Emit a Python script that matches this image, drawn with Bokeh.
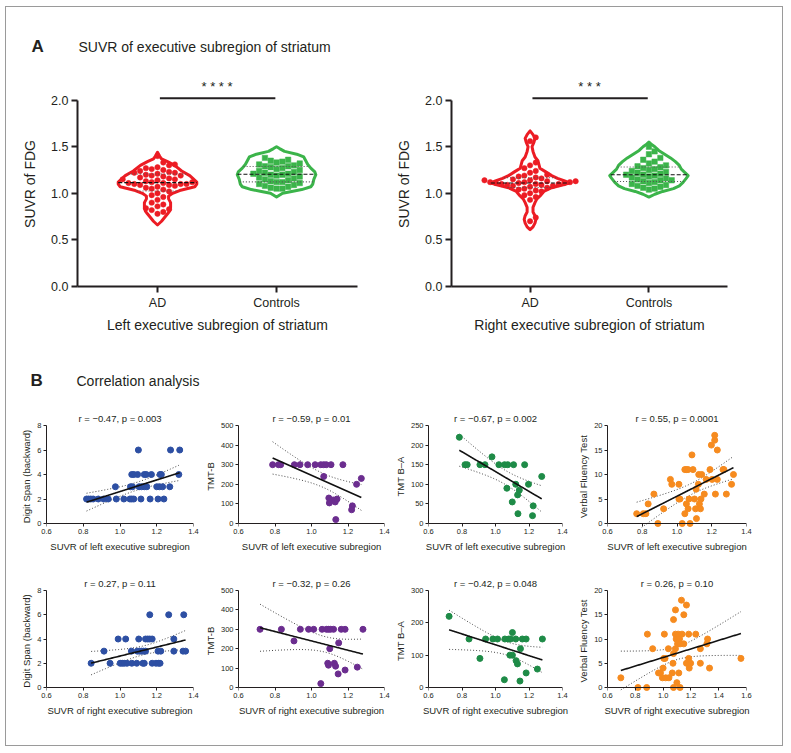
import numpy as np
from bokeh.plotting import figure
from bokeh.layouts import column, row
from bokeh.models import Range1d, FixedTicker, NumeralTickFormatter, Label, LinearAxis
from bokeh.embed import file_html
from bokeh.resources import INLINE

FONT = "Liberation Sans"
INK = "#231f20"

# ---------------- data: panel A (violins) ----------------
groups = ["AD", "Controls"]
panel_a_title = "SUVR of executive subregion of striatum"
panel_b_title = "Correlation analysis"
violin_xlabels = ["Left executive subregion of striatum", "Right executive subregion of striatum"]
violin_ylabel = "SUVR of FDG"
violin_yticks = [0.0, 0.5, 1.0, 1.5, 2.0]
sig_marks = ["* * * *", "* * *"]

suvr_ad_left = [1.40, 1.33, 1.31, 1.30, 1.28, 1.27, 1.26, 1.25, 1.24, 1.23, 1.22, 1.22, 1.21, 1.20,
                1.19, 1.19, 1.18, 1.17, 1.16, 1.15, 1.15, 1.14, 1.13, 1.12, 1.12, 1.11, 1.11, 1.10,
                1.10, 1.10, 1.09, 1.09, 1.08, 1.07, 1.06, 1.05, 1.04, 1.02, 1.00, 0.98, 0.96, 0.93,
                0.90, 0.88, 0.86, 0.84, 0.83, 0.82, 0.80, 0.78]
suvr_ctl_left = [1.38, 1.36, 1.35, 1.34, 1.33, 1.32, 1.31, 1.30, 1.29, 1.29, 1.28, 1.27, 1.26, 1.25,
                 1.24, 1.23, 1.22, 1.21, 1.21, 1.20, 1.20, 1.19, 1.18, 1.17, 1.16, 1.15, 1.14, 1.13,
                 1.12, 1.12, 1.11, 1.10, 1.09, 1.08, 1.07, 1.06, 1.05, 1.05]
suvr_ad_right = [1.60, 1.56, 1.33, 1.30, 1.27, 1.24, 1.22, 1.20, 1.19, 1.18, 1.17, 1.16, 1.15, 1.14,
                 1.14, 1.13, 1.13, 1.12, 1.12, 1.12, 1.11, 1.11, 1.11, 1.10, 1.10, 1.10, 1.09, 1.09,
                 1.08, 1.08, 1.07, 1.06, 1.05, 1.04, 1.03, 1.02, 1.00, 0.98, 0.96, 0.93, 0.74, 0.70]
suvr_ctl_right = [1.50, 1.45, 1.42, 1.38, 1.36, 1.34, 1.32, 1.30, 1.29, 1.28, 1.27, 1.26, 1.25, 1.24,
                  1.23, 1.22, 1.21, 1.20, 1.20, 1.19, 1.18, 1.17, 1.16, 1.15, 1.14, 1.14, 1.13, 1.12,
                  1.11, 1.10, 1.09, 1.08, 1.07, 1.06, 1.05, 1.04]

# violin outlines: SUVR levels and relative density
ad_left_levels = [0.66, 0.70, 0.74, 0.78, 0.81, 0.85, 0.90, 0.94, 0.97, 1.00, 1.03, 1.07, 1.10, 1.12,
                  1.16, 1.19, 1.24, 1.30, 1.34, 1.37, 1.40, 1.44]
ad_left_density = [0, 4, 7, 10, 12, 13, 13, 11, 11, 15, 22, 37, 39, 39, 35, 32, 24, 17, 10, 4, 2, 0]
ctl_left_levels = [0.96, 1.00, 1.02, 1.04, 1.07, 1.10, 1.15, 1.20, 1.23, 1.27, 1.31, 1.35, 1.39, 1.42,
                   1.45, 1.48, 1.50]
ctl_left_density = [0, 6, 15, 25, 34, 36, 37, 39, 38, 34, 31, 29, 27, 20, 8, 3, 0]
ad_right_levels = [0.61, 0.64, 0.68, 0.72, 0.76, 0.80, 0.85, 0.90, 0.94, 0.98, 1.02, 1.06, 1.09, 1.11,
                   1.13, 1.16, 1.19, 1.23, 1.27, 1.31, 1.35, 1.39, 1.45, 1.50, 1.55, 1.59, 1.63, 1.67]
ad_right_density = [0, 3, 5, 6, 5, 3, 3, 5, 7, 11, 14, 22, 33, 40, 36, 28, 22, 16, 10, 9, 8, 5, 3, 2,
                    4, 5, 3, 0]
ctl_right_levels = [0.96, 0.99, 1.02, 1.05, 1.08, 1.12, 1.16, 1.19, 1.22, 1.26, 1.30, 1.34, 1.38, 1.42,
                    1.46, 1.50, 1.53, 1.55]
ctl_right_density = [0, 6, 14, 25, 31, 35, 38, 40, 37, 33, 31, 27, 22, 16, 10, 6, 2, 0]

# ---------------- data: panel B (correlations) ----------------
xlabel_left = "SUVR of left executive subregion"
xlabel_right = "SUVR of right executive subregion"
ylabels = ["Digit Span (backward)", "TMT-B", "TMT B\u2013A", "Verbal Fluency Test"]
titles_left = ["r = \u22120.47, p = 0.003", "r = \u22120.59, p = 0.01",
               "r = \u22120.67, p = 0.002", "r = 0.55, p = 0.0001"]
titles_right = ["r = 0.27, p = 0.11", "r = \u22120.32, p = 0.26",
                "r = \u22120.42, p = 0.048", "r = 0.26, p = 0.10"]
x_ticks_14 = [0.6, 0.8, 1.0, 1.2, 1.4]
x_ticks_16 = [0.6, 0.8, 1.0, 1.2, 1.4, 1.6]
y_ticks_ds = [0, 2, 4, 6, 8]
y_ticks_tmtb = [0, 100, 200, 300, 400, 500]
y_ticks_tmtba_l = [0, 50, 100, 150, 200, 250]
y_ticks_tmtba_r = [0, 100, 200, 300]
y_ticks_vf = [0, 5, 10, 15, 20]

ds_left_x = [0.818, 0.829, 0.841, 0.854, 0.882, 0.911, 0.936, 0.980, 1.021, 1.054, 1.064, 1.075, 1.114,
             1.164, 1.207, 1.239,
             0.975, 1.057, 1.068, 1.104, 1.118, 1.132, 1.146, 1.200, 1.214, 1.232, 1.271,
             1.064, 1.075, 1.096, 1.132, 1.143, 1.171, 1.218, 1.225, 1.320,
             1.100, 1.275, 1.325]
ds_left_y = [2] * 16 + [3] * 11 + [4] * 9 + [6] * 3

tmtb_left_x = [0.787, 0.819, 0.831, 0.906, 0.937, 0.979, 1.020, 1.051, 1.067, 1.081, 1.107, 1.172,
               1.067, 1.273, 1.247, 1.095, 1.119, 1.098, 1.130, 1.140, 1.224, 1.220, 1.133]
tmtb_left_y = [300] * 12 + [240, 230, 200, 130, 120, 105, 110, 125, 90, 70, 20]

tmtba_left_x = [0.784, 0.979, 0.818, 0.831, 0.907, 0.937, 1.020, 1.054, 1.073, 1.108, 1.174, 1.276,
                1.121, 1.197, 1.068, 1.142, 1.132, 1.100, 1.225, 1.134, 1.221]
tmtba_left_y = [220, 170, 150, 150, 150, 150, 150, 150, 150, 150, 150, 120, 100, 100, 90, 85, 73,
                55, 45, 25, 20]

vf_left_x = [0.768, 0.806, 0.821, 0.834, 0.867, 0.890, 0.923, 0.962, 0.970, 1.011, 1.011, 1.017,
             1.030, 1.045, 1.054, 1.064, 1.045, 1.054, 1.064, 1.069, 1.075, 1.086, 1.092, 1.101,
             1.110, 1.107, 1.112, 1.123, 1.125, 1.129, 1.135, 1.138, 1.142, 1.157, 1.168, 1.190,
             1.198, 1.202, 1.217, 1.217, 1.221, 1.232, 1.232, 1.265, 1.270, 1.284, 1.314, 1.325]
vf_left_y = [2, 2, 2, 4, 6, 0, 3, 9, 8, 8, 5, 5, 0, 11, 11, 11, 2, 4, 3, 5, 0, 14, 11, 5, 7, 3, 1, 8,
             10, 4, 3, 5, 10, 6, 9, 11, 16, 9, 18, 17, 6, 9, 15, 11, 11, 6, 8, 10]

ds_right_x = [0.843, 0.946, 1.001, 1.012, 1.023, 1.038, 1.064, 1.091, 1.124, 1.132, 1.175, 1.196,
              1.210, 1.218,
              0.913, 1.062, 1.094, 1.106, 1.117, 1.128, 1.139, 1.207, 1.222, 1.293, 1.343, 1.357,
              0.990, 1.031, 1.102, 1.139, 1.151, 1.162, 1.175, 1.293,
              1.162, 1.265, 1.347]
ds_right_y = [2] * 14 + [3] * 12 + [4] * 8 + [6] * 3

tmtb_right_x = [0.718, 0.835, 0.904, 0.939, 0.984, 1.012, 1.058, 1.082, 1.093, 1.104, 1.121, 1.163,
                1.184, 1.282, 1.100, 1.149, 1.089, 1.093, 1.125, 1.132, 1.184, 1.146, 1.251, 1.051]
tmtb_right_y = [300, 300, 240, 300, 300, 300, 300, 300, 300, 300, 300, 300, 300, 300, 200, 230, 125,
                115, 125, 110, 90, 70, 105, 20]

tmtba_right_x = [0.723, 0.842, 0.907, 0.941, 0.984, 1.012, 1.056, 1.079, 1.090, 1.101, 1.121, 1.160,
                 1.183, 1.280, 1.086, 1.101, 1.123, 1.131, 1.149, 1.183, 1.250, 1.053, 1.146]
tmtba_right_y = [220, 150, 90, 150, 150, 150, 150, 150, 150, 170, 150, 150, 150, 150, 100, 100, 83,
                 73, 120, 45, 57, 24, 20]

vf_right_x = [0.696, 0.819, 0.882, 0.887, 0.925, 0.967, 0.981, 0.995, 1.000, 1.005, 1.009, 1.014,
              1.019, 1.038, 1.042, 1.066, 1.071, 1.075, 1.075, 1.075, 1.089, 1.089, 1.089, 1.094,
              1.099, 1.104, 1.108, 1.113, 1.118, 1.122, 1.122, 1.132, 1.136, 1.149, 1.149, 1.168,
              1.168, 1.184, 1.184, 1.188, 1.198, 1.235, 1.268, 1.268, 1.315, 1.320, 1.334, 1.560]
vf_right_y = [2, 0, 0, 11, 8, 3, 3, 2, 4, 6, 11, 6, 2, 8, 2, 3, 5, 7, 14, 0, 16, 8, 11, 10, 1, 9, 11,
              3, 10, 0, 9, 18, 11, 9, 15, 17, 5, 6, 11, 4, 5, 11, 8, 5, 9, 10, 4, 6]

# ---------------- style ----------------
RED = "#ec1c24"
GREEN_V = "#3bb44a"
BLUE = "#2d4fa3"
PURPLE = "#6b2d8f"
GREEN_S = "#1e8b47"
ORANGE = "#f68b1f"
VIOLIN_HALF = 0.33
TOTAL_W = 776


def base_fig(width, height, bl, br, bt, bb, xr, yr, **kw):
    p = figure(width=width, height=height, x_range=xr, y_range=yr,
               min_border_left=bl, min_border_right=br, min_border_top=bt, min_border_bottom=bb,
               output_backend="svg", toolbar_location=None, tools="", **kw)
    p.grid.visible = False
    p.outline_line_color = None
    return p


def style_axis(ax, lw, tick_len, tick_size, label_size, tick_standoff, label_standoff):
    ax.axis_line_color = INK
    ax.axis_line_width = lw
    ax.major_tick_line_color = INK
    ax.major_tick_line_width = lw
    ax.major_tick_out = tick_len
    ax.major_tick_in = 0
    ax.minor_tick_line_color = None
    ax.major_label_text_font = FONT
    ax.major_label_text_font_size = tick_size
    ax.major_label_text_color = INK
    ax.major_label_standoff = tick_standoff
    ax.axis_label_text_font = FONT
    ax.axis_label_text_font_size = label_size
    ax.axis_label_text_font_style = "normal"
    ax.axis_label_text_color = INK
    ax.axis_label_standoff = label_standoff


def header_fig(height, letter, text, y, x_letter, x_text):
    p = base_fig(TOTAL_W, height, 0, 0, 0, 0, Range1d(0, 1), Range1d(0, 1),
                 x_axis_location=None, y_axis_location=None)
    p.add_layout(Label(x=x_letter, y=y, x_units="screen", y_units="screen", text=letter,
                       text_font=FONT, text_font_size="17px", text_font_style="bold",
                       text_baseline="middle", text_align="left", text_color=INK))
    p.add_layout(Label(x=x_text, y=y, x_units="screen", y_units="screen", text=text,
                       text_font=FONT, text_font_size="14px", text_baseline="middle",
                       text_align="left", text_color=INK))
    return p


def swarm(vals, px_x, px_y, d=5.8):
    vals = np.asarray(vals, dtype=float)
    order = np.argsort(vals, kind="stable")
    placed = []
    offs = np.zeros(len(vals))
    for i in order:
        yp = vals[i] * px_y
        k = 0
        while True:
            c = 0.0 if k == 0 else ((k + 1) // 2) * d * (1 if k % 2 == 1 else -1)
            if all((c - a) ** 2 + (yp - b) ** 2 >= d * d * 0.98 for a, b in placed):
                break
            k += 1
        placed.append((c, yp))
        offs[i] = c / px_x
    return offs


def violin_fig(side, vals_ad, vals_ctl, lv_ad, dn_ad, lv_ctl, dn_ctl, bl, fw, br, xr):
    bt, fh, bb = 14, 205, 50
    p = base_fig(bl + fw + br, bt + fh + bb, bl, br, bt, bb, Range1d(*xr), Range1d(0, 2.2))
    px_x = fw / (xr[1] - xr[0])
    px_y = fh / 2.2
    specs = [(0, vals_ad, lv_ad, dn_ad, RED, "circle", 5.4),
             (1, vals_ctl, lv_ctl, dn_ctl, GREEN_V, "square", 5.4)]
    for c, vals, lv, dn, col, mk, sz in specs:
        dn = np.asarray(dn, dtype=float) / max(dn)
        lv = np.asarray(lv, dtype=float)
        half = dn * VIOLIN_HALF
        xs = list(c + half) + list((c - half)[::-1])
        ys = list(lv) + list(lv[::-1])
        p.patch(xs, ys, fill_color="white", line_color=col, line_width=3, line_join="round")
        offs = swarm(vals, px_x, px_y)
        p.scatter(c + offs, vals, marker=mk, size=sz, fill_color=col, line_color=col, line_width=0.5)
        q1, med, q3 = np.percentile(vals, [25, 50, 75])
        for q, dash, colr in [(q1, "1 2", "#555555"), (q3, "1 2", "#555555"), (med, "4 2", "#111111")]:
            h = np.interp(q, lv, dn) * VIOLIN_HALF
            p.segment(x0=[c - h], y0=[q], x1=[c + h], y1=[q], line_color=colr, line_width=1.1,
                      line_dash=dash)
    top = violin_yticks[-1]
    p.segment(x0=[0.02], y0=[top + 0.02], x1=[0.99], y1=[top + 0.02], line_color=INK, line_width=2)
    p.add_layout(Label(x=0.5, y=top + 0.15, text=sig_marks[side], text_align="center",
                       text_baseline="middle", text_font=FONT, text_font_size="13px",
                       text_color=INK))
    xa = p.xaxis[0]
    xa.ticker = FixedTicker(ticks=[0, 1])
    xa.major_label_overrides = {0: groups[0], 1: groups[1]}
    style_axis(xa, 2, 6, "12.5px", "14px", 3, 4)
    xa.axis_label = violin_xlabels[side]
    ya = p.yaxis[0]
    ya.ticker = FixedTicker(ticks=violin_yticks)
    ya.formatter = NumeralTickFormatter(format="0.0")
    ya.bounds = (0, top)
    style_axis(ya, 2, 6, "12.5px", "14px", 3, 10)
    ya.axis_label = violin_ylabel
    return p


COLS = [(40, 147, 8), (30, 153, 7), (30, 141, 13), (28, 143, 36)]
ROWS = [(35, 98, 36), (27, 97, 54)]
PAD = 4


def tcrit(df):
    z = 1.959964
    return (z + (z ** 3 + z) / (4 * df) + (5 * z ** 5 + 16 * z ** 3 + 3 * z) / (96 * df ** 2)
            + (3 * z ** 7 + 19 * z ** 5 + 17 * z ** 3 - 15 * z) / (384 * df ** 3))


def regression(x, y):
    x = np.asarray(x, dtype=float)
    y = np.asarray(y, dtype=float)
    n = len(x)
    b, a = np.polyfit(x, y, 1)
    xs = np.linspace(x.min(), x.max(), 80)
    yh = a + b * xs
    s = np.sqrt(np.sum((y - (a + b * x)) ** 2) / (n - 2))
    sxx = np.sum((x - x.mean()) ** 2)
    se = s * np.sqrt(1.0 / n + (xs - x.mean()) ** 2 / sxx)
    t = tcrit(n - 2)
    return xs, yh, yh - t * se, yh + t * se


def scatter_fig(x, y, color, title, xlabel, ylabel, xticks, yticks, ci, ri):
    bl, fw, br = COLS[ci]
    bt, fh, bb = ROWS[ri]
    ymax = yticks[-1]
    y0 = -ymax * PAD / fh
    p = base_fig(bl + fw + br, bt + fh + PAD + bb, bl, br, bt, bb,
                 Range1d(xticks[0], xticks[-1]), Range1d(y0, ymax))
    xs, yh, lo, hi = regression(x, y)
    p.line(xs, lo, line_color="#444444", line_width=1, line_dash="1 2")
    p.line(xs, hi, line_color="#444444", line_width=1, line_dash="1 2")
    p.scatter(x, y, marker="circle", size=6, fill_color=color, line_color=color)
    p.line(xs, yh, line_color="#111111", line_width=1.6)
    p.title.text = title
    p.title.align = "center"
    p.title.text_font = FONT
    p.title.text_font_size = "9.5px"
    p.title.text_font_style = "normal"
    p.title.text_color = INK
    p.title.standoff = 3
    # labelled x axis at the frame edge (no line / ticks)
    xa = p.xaxis[0]
    xa.ticker = FixedTicker(ticks=xticks)
    xa.formatter = NumeralTickFormatter(format="0.0")
    style_axis(xa, 1, 0, "7.5px", "9.5px", 1, 4)
    xa.axis_line_color = None
    xa.major_tick_line_color = None
    xa.axis_label = xlabel
    # axis line and ticks drawn exactly at y = 0
    fx = LinearAxis(fixed_location=0, ticker=FixedTicker(ticks=xticks))
    style_axis(fx, 1, 3, "1px", "1px", 0, 0)
    fx.major_label_text_color = None
    p.add_layout(fx, "below")
    ya = p.yaxis[0]
    ya.ticker = FixedTicker(ticks=yticks)
    ya.formatter = NumeralTickFormatter(format="0")
    ya.bounds = (0, ymax)
    style_axis(ya, 1, 3, "7.5px", "9.5px", 2, 2)
    ya.axis_label = ylabel
    return p


hA = header_fig(60, "A", panel_a_title, 21, 25, 72)
vL = violin_fig(0, suvr_ad_left, suvr_ctl_left, ad_left_levels, ad_left_density,
                ctl_left_levels, ctl_left_density, 71, 280, 36, (-0.672, 1.68))
vR = violin_fig(1, suvr_ad_right, suvr_ctl_right, ad_right_levels, ad_right_density,
                ctl_right_levels, ctl_right_density, 53, 281, 55, (-0.661, 1.661))
hB = header_fig(54, "B", panel_b_title, 10, 24, 70)

s1 = scatter_fig(ds_left_x, ds_left_y, BLUE, titles_left[0], xlabel_left, ylabels[0], x_ticks_14, y_ticks_ds, 0, 0)
s2 = scatter_fig(tmtb_left_x, tmtb_left_y, PURPLE, titles_left[1], xlabel_left, ylabels[1], x_ticks_14, y_ticks_tmtb, 1, 0)
s3 = scatter_fig(tmtba_left_x, tmtba_left_y, GREEN_S, titles_left[2], xlabel_left, ylabels[2], x_ticks_14, y_ticks_tmtba_l, 2, 0)
s4 = scatter_fig(vf_left_x, vf_left_y, ORANGE, titles_left[3], xlabel_left, ylabels[3], x_ticks_14, y_ticks_vf, 3, 0)
s5 = scatter_fig(ds_right_x, ds_right_y, BLUE, titles_right[0], xlabel_right, ylabels[0], x_ticks_14, y_ticks_ds, 0, 1)
s6 = scatter_fig(tmtb_right_x, tmtb_right_y, PURPLE, titles_right[1], xlabel_right, ylabels[1], x_ticks_14, y_ticks_tmtb, 1, 1)
s7 = scatter_fig(tmtba_right_x, tmtba_right_y, GREEN_S, titles_right[2], xlabel_right, ylabels[2], x_ticks_14, y_ticks_tmtba_r, 2, 1)
s8 = scatter_fig(vf_right_x, vf_right_y, ORANGE, titles_right[3], xlabel_right, ylabels[3], x_ticks_16, y_ticks_vf, 3, 1)

layout = column(hA, row(vL, vR), hB, row(s1, s2, s3, s4), row(s5, s6, s7, s8),
                styles={"border": "1px solid #9a9a9a", "margin-left": "5px", "margin-top": "6px"})

open("out.html", "w").write(file_html(layout, INLINE))
